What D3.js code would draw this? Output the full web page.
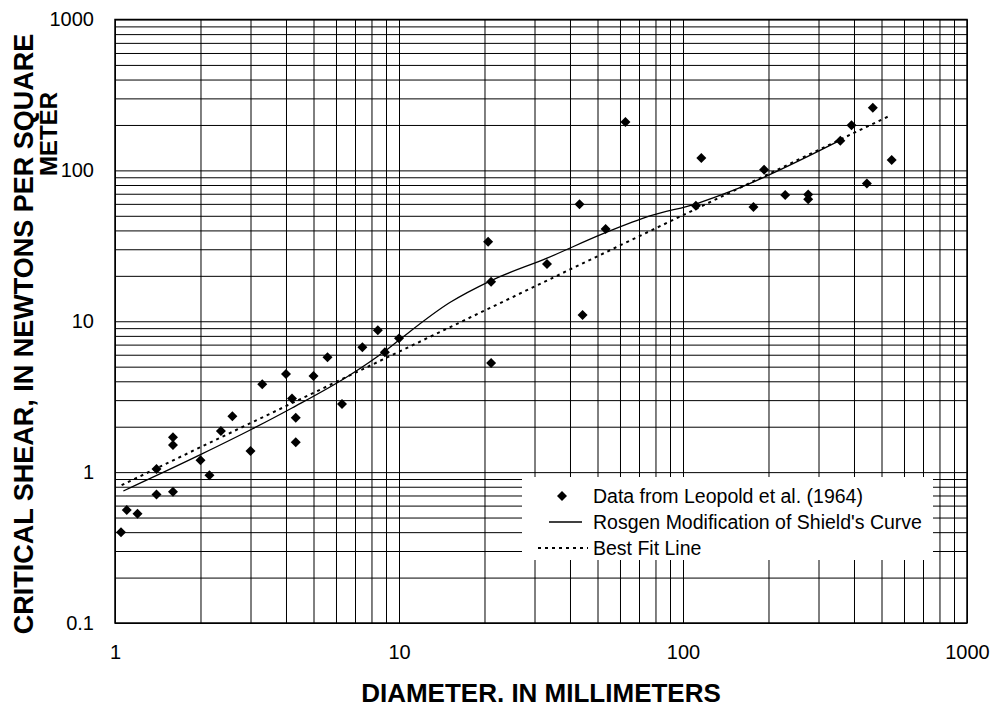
<!DOCTYPE html>
<html lang="en">
<head>
    <meta charset="UTF-8">
    <title>Critical shear vs diameter</title>
    <script src="https://d3js.org/d3.v7.min.js"></script>
    <style>
        body {
            margin: 0;
            background: #fff;
            font-family: Arial, "Liberation Sans", sans-serif;
        }
        .grid line {
            stroke: #000;
            stroke-width: 1px;
        }
        .label text {
            font-size: 20px;
            fill: #000;
        }
        .title {
            font-size: 26px;
            font-weight: bold;
            fill: #000;
        }
        .legend text {
            font-size: 19.5px;
            fill: #000;
        }
    </style>
</head>
<body>
    <svg width="996" height="707"></svg>

    <script>
        // 관측 자료 (Leopold et al., 1964) : 입경 mm / 한계소류력 N/m2
        const diameters = [1.05, 1.10, 1.20, 1.40, 1.40, 1.60, 1.60, 1.60, 2.00, 2.15,
            2.36, 2.59, 3.00, 3.30, 4.00, 4.20, 4.33, 4.33, 5.00, 5.60,
            6.30, 7.43, 8.42, 8.92, 10.0, 20.6, 21.1, 21.1, 33.2, 43.2,
            44.3, 53.4, 62.7, 111, 116, 177, 193, 229, 276, 276,
            358, 392, 466, 444, 543];
        const shears = [0.40, 0.56, 0.53, 1.05, 0.71, 1.70, 1.51, 0.74, 1.20, 0.955,
            1.87, 2.35, 1.38, 3.83, 4.47, 3.08, 2.29, 1.58, 4.33, 5.77,
            2.83, 6.73, 8.70, 6.22, 7.70, 33.6, 18.3, 5.28, 24.0, 59.7,
            11.0, 40.9, 209, 58.2, 120.6, 57.2, 101, 68.8, 69.2, 64.3,
            157, 199, 260, 82, 117];

        // Rosgen Modification of Shield's Curve
        const rosgenD = [1.07, 1.99, 3.04, 4.20, 6.72, 8.93, 10.0, 15.1, 21.1, 33.2, 53.1, 76.5, 112, 150, 357];
        const rosgenT = [0.75, 1.30, 1.93, 2.66, 4.40, 6.35, 7.50, 13.3, 18.6, 26.2, 38.5, 49.9, 60.3, 73.6, 158];

        // Best Fit Line (양 끝점)
        const fitD = [1.055, 539];
        const fitT = [0.82, 232];

        const xMajor = [1, 10, 100, 1000];
        const yMajor = [0.1, 1, 10, 100, 1000];

        const legendLabels = ["Data from Leopold et al. (1964)", "Rosgen Modification of Shield's Curve", "Best Fit Line"];

        const svg = d3.select("svg");
        const plotL = 115, plotR = 967, plotT = 19.5, plotB = 623;

        const x = d3.scaleLog().domain([1, 1000]).range([plotL, plotR]);
        const y = d3.scaleLog().domain([0.1, 1000]).range([plotB, plotT]);

        // 격자선
        svg.append("g")
            .attr("class", "grid")
            .attr("transform", `translate(0,${plotB})`)
            .call(d3.axisBottom(x).tickValues(x.ticks()).tickSize(-(plotB - plotT)).tickFormat(""))
            .call(g => g.select(".domain").remove());

        svg.append("g")
            .attr("class", "grid")
            .attr("transform", `translate(${plotL},0)`)
            .call(d3.axisLeft(y).tickValues(y.ticks()).tickSize(-(plotR - plotL)).tickFormat(""))
            .call(g => g.select(".domain").remove());

        // 테두리
        svg.append("rect")
            .attr("x", plotL).attr("y", plotT)
            .attr("width", plotR - plotL).attr("height", plotB - plotT)
            .attr("fill", "none").attr("stroke", "#000").attr("stroke-width", 1.5);

        // 눈금 라벨
        svg.append("g")
            .attr("class", "label")
            .attr("transform", `translate(0,${plotB + 19})`)
            .call(d3.axisBottom(x).tickValues(xMajor).tickSize(0).tickFormat(d => String(d)))
            .call(g => g.select(".domain").remove())
            .call(g => g.selectAll("text").attr("font-family", null).attr("font-size", null));

        svg.append("g")
            .attr("class", "label")
            .attr("transform", `translate(${plotL - 18},0)`)
            .call(d3.axisLeft(y).tickValues(yMajor).tickSize(0).tickFormat(d => String(d)))
            .call(g => g.select(".domain").remove())
            .call(g => g.selectAll("text").attr("font-family", null).attr("font-size", null));

        // 축 제목
        svg.append("text")
            .attr("class", "title")
            .attr("x", 541).attr("y", 702)
            .attr("text-anchor", "middle")
            .text("DIAMETER. IN MILLIMETERS");

        svg.append("text")
            .attr("class", "title")
            .attr("transform", "translate(33,334) rotate(-90)")
            .attr("text-anchor", "middle")
            .style("font-size", "27px")
            .text("CRITICAL SHEAR, IN NEWTONS PER SQUARE");

        svg.append("text")
            .attr("class", "title")
            .attr("transform", "translate(57,134) rotate(-90)")
            .attr("text-anchor", "middle")
            .style("font-size", "24px")
            .text("METER");

        // 곡선
        const rosgen = d3.zip(rosgenD, rosgenT);
        const fit = d3.zip(fitD, fitT);

        const line = d3.line()
            .x(d => x(d[0]))
            .y(d => y(d[1]));

        svg.append("path")
            .datum(fit)
            .attr("d", line)
            .attr("fill", "none")
            .attr("stroke", "#000")
            .attr("stroke-width", 2)
            .attr("stroke-dasharray", "3,4");

        svg.append("path")
            .datum(rosgen)
            .attr("d", line.curve(d3.curveMonotoneX))
            .attr("fill", "none")
            .attr("stroke", "#000")
            .attr("stroke-width", 1.3);

        // 자료점
        const diamond = d3.symbol(d3.symbolSquare, 50);
        svg.append("g")
            .selectAll("path")
            .data(d3.zip(diameters, shears))
            .join("path")
            .attr("d", diamond)
            .attr("transform", d => `translate(${x(d[0])},${y(d[1])}) rotate(45)`)
            .attr("fill", "#000");

        // 범례
        const legend = svg.append("g").attr("class", "legend");
        legend.append("rect")
            .attr("x", 522).attr("y", 477)
            .attr("width", 411).attr("height", 83)
            .attr("fill", "#fff");

        legend.append("path")
            .attr("d", diamond)
            .attr("transform", "translate(562,496) rotate(45)")
            .attr("fill", "#000");
        legend.append("line")
            .attr("x1", 549).attr("x2", 582).attr("y1", 522).attr("y2", 522)
            .attr("stroke", "#000").attr("stroke-width", 1.3);
        legend.append("line")
            .attr("x1", 538).attr("x2", 588).attr("y1", 548).attr("y2", 548)
            .attr("stroke", "#000").attr("stroke-width", 2).attr("stroke-dasharray", "3,4");

        legend.selectAll("text")
            .data(legendLabels)
            .join("text")
            .attr("x", 593)
            .attr("y", (d, i) => 503 + i * 26)
            .text(d => d);
    </script>
</body>
</html>
